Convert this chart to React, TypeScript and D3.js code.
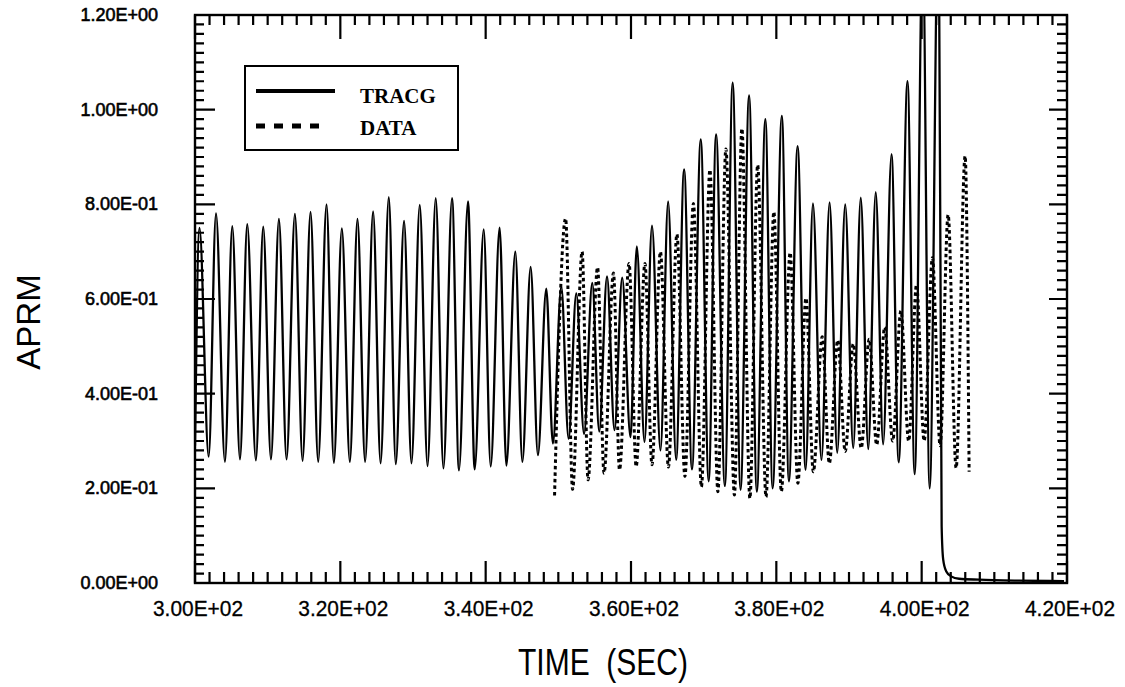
import React from "react";
import * as d3 from "d3";

// ---- Data ----
const tracgTime = [
  300.0, 300.62, 301.88, 302.89, 304.12, 305.13, 306.19, 307.19, 308.38, 309.39,
  310.45, 311.55, 312.6, 313.75, 314.8, 315.9, 316.95, 318.1, 319.11, 320.21,
  321.31, 322.36, 323.41, 324.51, 325.54, 326.67, 327.63, 328.77, 329.79, 330.93,
  332.0, 333.13, 334.19, 335.37, 336.33, 337.57, 338.49, 339.73, 340.69, 341.92,
  342.85, 344.08, 345.05, 346.19, 347.19, 348.34, 349.25, 350.41, 351.41, 352.47,
  353.54, 354.67, 355.63, 356.7, 357.73, 358.79, 359.93, 360.8, 361.86, 362.89,
  364.06, 365.11, 366.21, 367.31, 368.39, 369.6, 370.69, 371.71, 372.92, 373.99,
  375.08, 376.25, 377.32, 378.49, 379.49, 380.76, 381.73, 382.93, 384.03, 385.04,
  386.21, 387.33, 388.38, 389.48, 390.58, 391.62, 392.65, 393.68, 394.7, 395.85,
  396.84, 398.05, 399.04, 400.14, 401.1, 402.34, 402.75, 402.96, 403.37, 404.06,
  405.15, 407.9, 413.4, 419.59,
];
const tracgAprm = [
  0.29, 0.75, 0.267, 0.781, 0.256, 0.754, 0.261, 0.758, 0.259, 0.753,
  0.261, 0.769, 0.261, 0.78, 0.258, 0.784, 0.256, 0.8, 0.254, 0.749,
  0.256, 0.769, 0.256, 0.785, 0.253, 0.815, 0.251, 0.765, 0.253, 0.799,
  0.247, 0.813, 0.242, 0.813, 0.238, 0.806, 0.24, 0.747, 0.246, 0.751,
  0.248, 0.7, 0.256, 0.668, 0.27, 0.622, 0.295, 0.626, 0.305, 0.612,
  0.315, 0.634, 0.32, 0.648, 0.323, 0.645, 0.308, 0.711, 0.298, 0.755,
  0.28, 0.806, 0.26, 0.874, 0.24, 0.937, 0.215, 0.948, 0.205, 1.057,
  0.197, 1.03, 0.193, 0.98, 0.2, 0.987, 0.215, 0.923, 0.239, 0.802,
  0.26, 0.804, 0.275, 0.8, 0.285, 0.814, 0.283, 0.826, 0.293, 0.906,
  0.255, 1.06, 0.23, 1.35, 0.2, 1.45, 0.12, 0.05, 0.025, 0.014,
  0.009, 0.007, 0.005, 0.004,
];
const dataTime = [
  349.48, 351.0, 351.96, 353.27, 354.09, 355.4, 356.29, 357.59, 358.42, 359.73,
  360.71, 361.92, 362.89, 364.05, 365.15, 366.32, 367.42, 368.59, 369.69, 370.86,
  371.96, 373.06, 374.23, 375.26, 376.36, 377.43, 378.58, 379.66, 380.69, 381.9,
  382.96, 384.08, 385.09, 386.32, 387.29, 388.45, 389.48, 390.58, 391.68, 392.78,
  393.81, 394.91, 396.01, 397.14, 398.21, 399.29, 400.34, 401.48, 402.54, 403.64,
  404.74, 405.98, 406.53,
];
const dataAprm = [
  0.185, 0.77, 0.198, 0.7, 0.218, 0.667, 0.232, 0.655, 0.239, 0.675,
  0.246, 0.675, 0.25, 0.7, 0.245, 0.737, 0.225, 0.802, 0.203, 0.873,
  0.193, 0.917, 0.186, 0.96, 0.179, 0.883, 0.182, 0.784, 0.193, 0.698,
  0.211, 0.602, 0.235, 0.52, 0.253, 0.513, 0.278, 0.505, 0.285, 0.515,
  0.292, 0.54, 0.3, 0.575, 0.3, 0.63, 0.3, 0.687, 0.29, 0.778,
  0.243, 0.902, 0.235,
];

const xTickValues = [300, 320, 340, 360, 380, 400, 420];
const xTickLabels = ["3.00E+02", "3.20E+02", "3.40E+02", "3.60E+02", "3.80E+02", "4.00E+02", "4.20E+02"];
const yTickValues = [0, 0.2, 0.4, 0.6, 0.8, 1.0, 1.2];
const yTickLabels = ["0.00E+00", "2.00E-01", "4.00E-01", "6.00E-01", "8.00E-01", "1.00E+00", "1.20E+00"];
const seriesNames = ["TRACG", "DATA"];
const xTitle = "TIME  (SEC)";
const yTitle = "APRM";

export default function App() {
  const W = 1125;
  const H = 687;
  const L = 195, R = 1067, T = 15, B = 583;
  const x = d3.scaleLinear().domain([300, 420]).range([L, R]);
  const y = d3.scaleLinear().domain([0, 1.2]).range([B, T]);
  const line = d3
    .line<[number, number]>()
    .x((d) => x(d[0]))
    .y((d) => y(d[1]))
    .curve(d3.curveMonotoneX);
  const tracgPts = tracgTime.map((t, i) => [t, tracgAprm[i]] as [number, number]);
  const dataPts = dataTime.map((t, i) => [t, dataAprm[i]] as [number, number]);

  const xMinor = d3.range(0, 61).map((i) => 300 + 2 * i);
  const yMinor = d3.range(0, 61).map((i) => i * 0.02);
  const isXMajor = (v: number) => Math.abs(v / 20 - Math.round(v / 20)) < 1e-6;
  const isYMajor = (v: number) => Math.abs(v / 0.2 - Math.round(v / 0.2)) < 1e-6;

  const font = "'Liberation Sans', Arial, sans-serif";

  const tickPaths: string[] = [];
  xMinor.forEach((v) => {
    const maj = isXMajor(v);
    const px = x(v);
    tickPaths.push(`M${px},${B}V${B - (maj ? 22 : 11)}`);
    tickPaths.push(`M${px},${T}V${T + (maj ? 24 : 10)}`);
  });
  yMinor.forEach((v) => {
    const maj = isYMajor(v);
    const py = y(v);
    tickPaths.push(`M${L},${py}H${L + (maj ? 20 : 9)}`);
    tickPaths.push(`M${R},${py}H${R - (maj ? 18 : 10)}`);
  });

  return (
    <svg
      width={W}
      height={H}
      viewBox={`0 0 ${W} ${H}`}
      style={{ position: "absolute", left: 0, top: 0, background: "#fff" }}
    >
      <rect x={0} y={0} width={W} height={H} fill="#fff" />
      <defs>
        <clipPath id="plotClip">
          <rect x={L} y={T} width={R - L} height={B - T} />
        </clipPath>
      </defs>

      {/* series */}
      <g clipPath="url(#plotClip)">
        <path d={line(dataPts) || ""} fill="none" stroke="#000" strokeWidth={3} strokeDasharray="3.5 3" />
        <path d={line(tracgPts) || ""} fill="none" stroke="#000" strokeWidth={2.3} strokeLinejoin="round" />
      </g>

      {/* ticks, inward on all four sides */}
      <path d={tickPaths.join("")} fill="none" stroke="#000" strokeWidth={2.2} />

      {/* frame */}
      <rect x={L} y={T} width={R - L} height={B - T} fill="none" stroke="#000" strokeWidth={2.4} />

      {/* y tick labels */}
      {yTickValues.map((v, i) => (
        <text
          key={"yl" + i}
          x={158}
          y={y(v)}
          textAnchor="end"
          dominantBaseline="central"
          fontFamily={font}
          fontSize={18}
          stroke="#000"
          strokeWidth={0.6}
        >
          {yTickLabels[i]}
        </text>
      ))}
      {/* x tick labels */}
      {xTickValues.map((v, i) => (
        <text
          key={"xl" + i}
          x={x(v) + 3}
          y={608}
          textAnchor="middle"
          dominantBaseline="central"
          fontFamily={font}
          fontSize={22}
          textLength={90}
          lengthAdjust="spacingAndGlyphs"
          stroke="#000"
          strokeWidth={0.3}
        >
          {xTickLabels[i]}
        </text>
      ))}

      {/* axis titles */}
      <text
        x={603}
        y={662}
        textAnchor="middle"
        dominantBaseline="central"
        fontFamily={font}
        fontSize={36}
        textLength={170}
        lengthAdjust="spacingAndGlyphs"
        style={{ whiteSpace: "pre" }}
      >
        {xTitle}
      </text>
      <text
        transform={`translate(28,322) rotate(-90)`}
        textAnchor="middle"
        dominantBaseline="central"
        fontFamily={font}
        fontSize={33}
      >
        {yTitle}
      </text>

      {/* legend */}
      <rect x={245} y={66} width={213} height={84} fill="#fff" stroke="#000" strokeWidth={2} />
      <line x1={256} x2={335} y1={91} y2={91} stroke="#000" strokeWidth={4} />
      <line x1={256} x2={323} y1={126} y2={126} stroke="#000" strokeWidth={5} strokeDasharray="9 9" />
      <text x={360} y={103} fontFamily="'Liberation Serif', 'Times New Roman', serif" fontWeight="bold" fontSize={21}>
        {seriesNames[0]}
      </text>
      <text x={360} y={135} fontFamily="'Liberation Serif', 'Times New Roman', serif" fontWeight="bold" fontSize={21}>
        {seriesNames[1]}
      </text>
    </svg>
  );
}
